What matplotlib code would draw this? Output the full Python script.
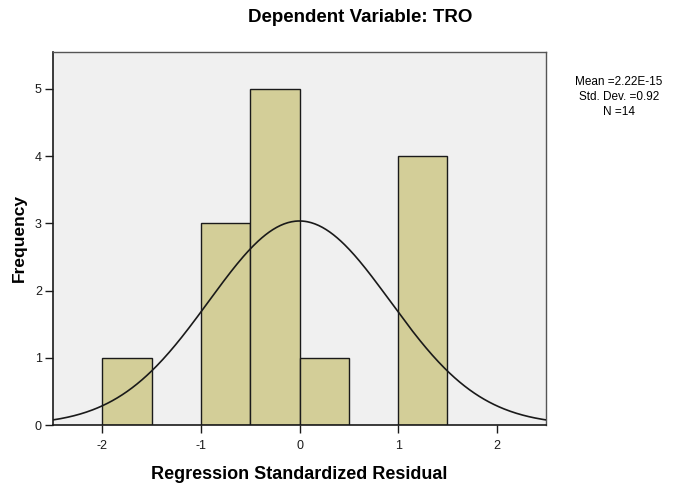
import numpy as np
import matplotlib
matplotlib.use("Agg")
import matplotlib.pyplot as plt

plt.rcParams["font.family"] = ["Liberation Sans", "DejaVu Sans"]
plt.rcParams["axes.unicode_minus"] = False

# данные гистограммы (ширина столбца 0.5)
bin_left = [-2.0, -1.5, -1.0, -0.5, 0.0, 0.5, 1.0]
counts = [1, 0, 3, 5, 1, 0, 4]
bin_width = 0.5
mean_val = 2.22e-15
std_val = 0.92
n_val = 14

fig = plt.figure(figsize=(6.81, 4.84), dpi=100)
ax = fig.add_axes([0.0778, 0.1219, 0.8018 - 0.0778, 0.8926 - 0.1219])
ax.set_facecolor("#F0F0F0")

for l, c in zip(bin_left, counts):
    if c > 0:
        ax.bar(l, c, width=bin_width, align="edge", color="#D3CE98",
               edgecolor="#1a1a1a", linewidth=1.0, zorder=2)

# нормальная кривая
x = np.linspace(-2.5, 2.5, 400)
y = n_val * bin_width / (std_val * np.sqrt(2 * np.pi)) * np.exp(-0.5 * ((x - mean_val) / std_val) ** 2)
ax.plot(x, y, color="#1a1a1a", linewidth=1.2, zorder=3)

ax.set_xlim(-2.5, 2.5)
ax.set_ylim(0, 5.55)
ax.set_xticks([-2, -1, 0, 1, 2])
ax.set_yticks([0, 1, 2, 3, 4, 5])
ax.tick_params(direction="out", length=6, width=1, labelsize=9, colors="#1a1a1a", pad=2)
ax.tick_params(axis="x", pad=5)

for side in ["top", "right"]:
    ax.spines[side].set_color("#555555")
    ax.spines[side].set_linewidth(1)
for side in ["left", "bottom"]:
    ax.spines[side].set_color("#1a1a1a")
    ax.spines[side].set_linewidth(1.2)

ax.set_xlabel("Regression Standardized Residual", fontsize=13, fontweight="bold", labelpad=10)
ax.set_ylabel("Frequency", fontsize=12.5, fontweight="bold", labelpad=6)
fig.text(360 / 681, 1 - 18 / 484, "Dependent Variable: TRO",
         ha="center", va="center", fontsize=13.5, fontweight="bold")

fig.text(619 / 681, 1 - 97 / 484,
         f"Mean ={mean_val:.2E}\nStd. Dev. ={std_val:.2f}\nN ={n_val}",
         ha="center", va="center", fontsize=8.5, linespacing=1.35,
         multialignment="center")

plt.savefig("out.png", dpi=100)
